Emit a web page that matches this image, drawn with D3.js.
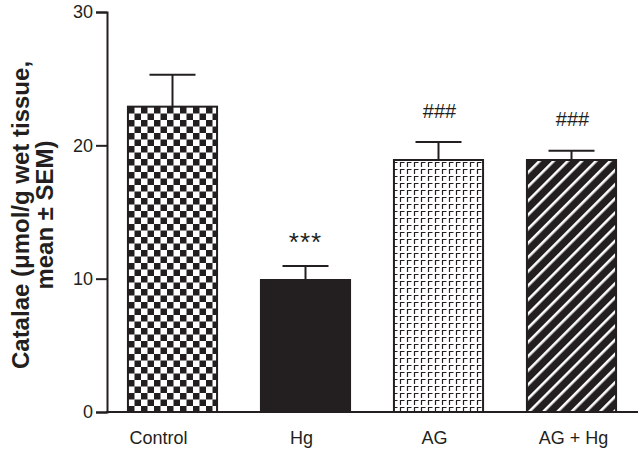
<!DOCTYPE html>
<html>
<head>
<meta charset="utf-8">
<script src="https://cdn.jsdelivr.net/npm/d3@7"></script>
<style>
  body { margin: 0; background: #fff; }
  svg text { font-family: "Liberation Sans", Arial, sans-serif; }
</style>
</head>
<body>
<div id="chart"></div>
<script>
var groups = ["Control", "Hg", "AG", "AG + Hg"];
var means = [22.9, 9.9, 18.9, 18.9];
var sems = [2.4, 1.05, 1.35, 0.7];
var marks = ["", "***", "###", "###"];
var yTicks = [0, 10, 20, 30];

var fills = ["url(#checker)", "#231f20", "url(#gamma)", "url(#stripes)"];
var labelShift = [-14, -4, -4, 2];

var width = 640, height = 449;
var ink = "#231f20";

var svg = d3.select("#chart").append("svg")
  .attr("width", width)
  .attr("height", height);

var defs = svg.append("defs");

var chk = defs.append("pattern").attr("id", "checker")
  .attr("patternUnits", "userSpaceOnUse").attr("width", 13).attr("height", 13)
  .attr("x", 128).attr("y", 107);
chk.append("rect").attr("width", 13).attr("height", 13).attr("fill", "#fff");
chk.append("rect").attr("width", 6.5).attr("height", 6.5).attr("fill", ink);
chk.append("rect").attr("x", 6.5).attr("y", 6.5).attr("width", 6.5).attr("height", 6.5).attr("fill", ink);

var gam = defs.append("pattern").attr("id", "gamma")
  .attr("patternUnits", "userSpaceOnUse").attr("width", 7).attr("height", 7);
gam.append("rect").attr("width", 7).attr("height", 7).attr("fill", "#fff");
gam.append("path").attr("d", "M1.5,6 V1.5 H5.5")
  .attr("fill", "none").attr("stroke", ink).attr("stroke-width", 1.2);

var str = defs.append("pattern").attr("id", "stripes")
  .attr("patternUnits", "userSpaceOnUse").attr("width", 10).attr("height", 10)
  .attr("patternTransform", "rotate(45)");
str.append("rect").attr("width", 10).attr("height", 10).attr("fill", ink);
str.append("rect").attr("x", 4).attr("width", 2.6).attr("height", 10).attr("fill", "#fff");

var x = d3.scaleBand()
  .domain(groups)
  .range([106, 638])
  .paddingInner(0.33)
  .paddingOuter(0.165);

var y = d3.scaleLinear()
  .domain([0, 30])
  .range([412, 12]);

var g = svg.append("g");

g.selectAll("rect.bar")
  .data(groups)
  .enter().append("rect")
  .attr("class", "bar")
  .attr("x", d => x(d))
  .attr("width", x.bandwidth())
  .attr("y", (d, i) => y(means[i]))
  .attr("height", (d, i) => y(0) - y(means[i]))
  .attr("fill", (d, i) => fills[i])
  .attr("stroke", ink)
  .attr("stroke-width", 2);

var capW = 46;
groups.forEach(function (d, i) {
  var cx = x(d) + x.bandwidth() / 2;
  var top = y(means[i] + sems[i]);
  g.append("line")
    .attr("x1", cx).attr("x2", cx)
    .attr("y1", y(means[i])).attr("y2", top)
    .attr("stroke", ink).attr("stroke-width", 2);
  g.append("line")
    .attr("x1", cx - capW / 2).attr("x2", cx + capW / 2)
    .attr("y1", top).attr("y2", top)
    .attr("stroke", ink).attr("stroke-width", 2);
  if (marks[i] === "***") {
    g.append("text")
      .attr("x", cx).attr("y", top - 15)
      .attr("text-anchor", "middle")
      .attr("font-size", 26).attr("letter-spacing", 1)
      .attr("fill", ink)
      .text(marks[i]);
  } else if (marks[i]) {
    g.append("text")
      .attr("x", cx + 1).attr("y", top - 24.5)
      .attr("text-anchor", "middle")
      .attr("font-size", 20)
      .attr("fill", ink)
      .text(marks[i]);
  }
});

var yAxis = d3.axisLeft(y).tickValues(yTicks).tickSize(11).tickPadding(3);
var ya = svg.append("g")
  .attr("transform", "translate(107,0)")
  .call(yAxis);
ya.select(".domain").attr("stroke", ink).attr("stroke-width", 2);
ya.selectAll(".tick line").attr("stroke", ink).attr("stroke-width", 2);
ya.selectAll(".tick text").attr("font-size", 18).attr("fill", ink)
  .attr("font-family", "Liberation Sans, Arial, sans-serif");

svg.append("line")
  .attr("x1", 106).attr("x2", 638)
  .attr("y1", y(0)).attr("y2", y(0))
  .attr("stroke", ink).attr("stroke-width", 2);

svg.selectAll("text.cat")
  .data(groups)
  .enter().append("text")
  .attr("class", "cat")
  .attr("x", (d, i) => x(d) + x.bandwidth() / 2 + labelShift[i])
  .attr("y", 444)
  .attr("text-anchor", "middle")
  .attr("font-size", 18)
  .attr("fill", ink)
  .text(d => d);

var lab = svg.append("text")
  .attr("transform", "translate(29,215) rotate(-90)")
  .attr("text-anchor", "middle")
  .attr("font-size", 24)
  .attr("font-weight", "bold")
  .attr("fill", ink);
lab.append("tspan").attr("x", 0).attr("dy", 0).text("Catalae (\u03bcmol/g wet tissue,");
lab.append("tspan").attr("x", 0).attr("dy", 24).text("mean \u00b1 SEM)");
</script>
</body>
</html>
